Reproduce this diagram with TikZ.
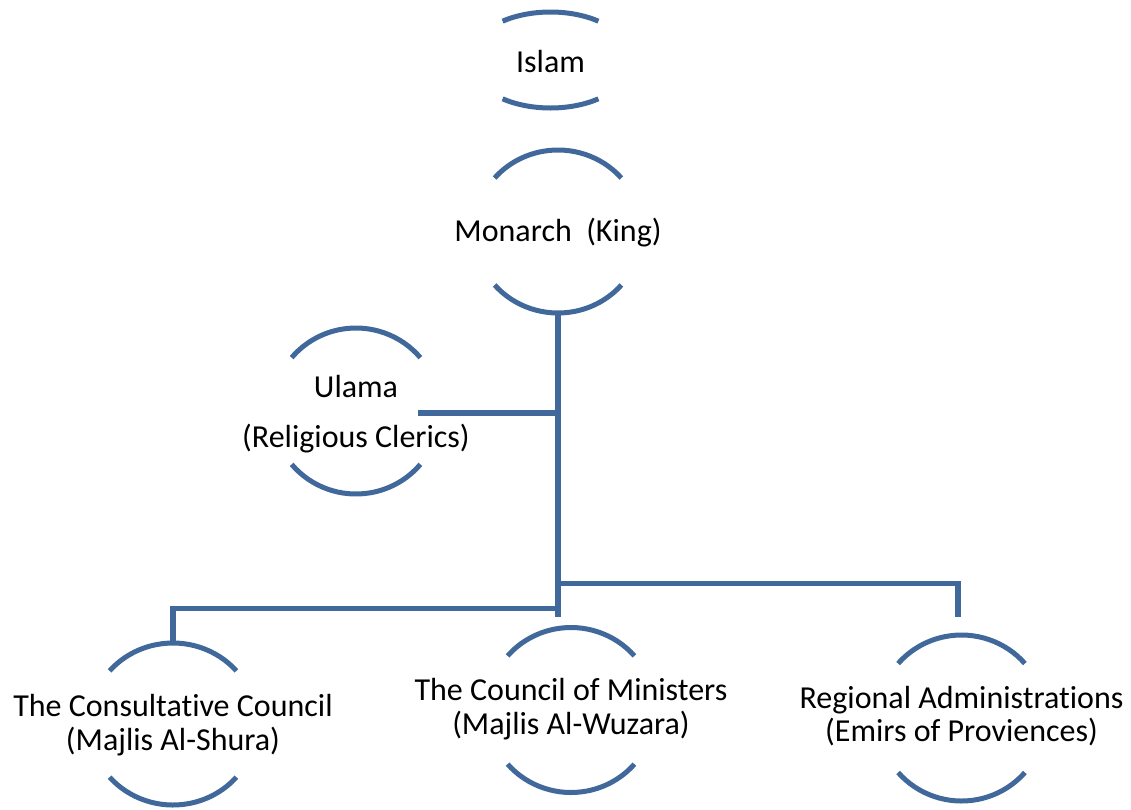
\documentclass[tikz,border=0pt]{standalone}
\usepackage{fontspec}
\setmainfont{Carlito}[Ligatures={NoCommon,NoContextual}]
\usetikzlibrary{shapes.geometric}
\definecolor{ringblue}{RGB}{65,104,155}
\tikzset{
  ring/.style={ellipse, draw=none, minimum width=168pt, minimum height=164pt, inner sep=0pt},
  arcline/.style={draw=ringblue, line width=5pt},
  conn/.style={draw=ringblue, line width=5.5pt},
  lbl/.style={font=\fontsize{32pt}{33.3pt}\selectfont, align=center, inner sep=0pt, anchor=base, text=black},
}
\newcommand{\ringarcs}[4]{%
  \draw[arcline] (#1.center) ++(#4:#2 and #3) arc[start angle=#4, end angle={180-#4}, x radius=#2, y radius=#3];
  \draw[arcline] (#1.center) ++({180+#4}:#2 and #3) arc[start angle={180+#4}, end angle={360-#4}, x radius=#2, y radius=#3];
}
\begin{document}
\begin{tikzpicture}[x=1pt,y=-1pt]
\useasboundingbox (0,0) rectangle (1131,809);

\node[ring, minimum width=163pt, minimum height=96pt] (islam) at (550.5,60) {};
\node[lbl] (islamT) at (550.5,72) {Islam};
\ringarcs{islam}{81.5pt}{48pt}{54}

\node[ring, minimum height=163pt] (monarch) at (558,231.5) {};
\node[lbl] (monarchT) at (558,241.7) {Monarch\ \ (King)};
\ringarcs{monarch}{84pt}{81.5pt}{41}

\node[ring, minimum height=166pt] (ulama) at (356,411) {};
\node[lbl, font=\fontsize{32pt}{50pt}\selectfont] (ulamaT) at (356,447) {Ulama\\(Religious Clerics)};
\ringarcs{ulama}{84pt}{83pt}{40}

\node[ring, minimum height=162pt] (consult) at (173,724) {};
\node[lbl] (consultT) at (173,750) {The Consultative Council\\(Majlis Al-Shura)};
\ringarcs{consult}{84pt}{81pt}{41}

\node[ring, minimum height=165pt] (ministers) at (571,710) {};
\node[lbl] (ministersT) at (571,734) {The Council of Ministers\\(Majlis Al-Wuzara)};
\ringarcs{ministers}{84pt}{82.5pt}{41}

\node[ring, minimum height=166pt] (regional) at (961.5,718) {};
\node[lbl] (regionalT) at (961.5,741.5) {Regional Administrations\\(Emirs of Proviences)};
\ringarcs{regional}{84pt}{83pt}{41}

\coordinate (trunkEnd) at (557,617);
\coordinate (ulamaR) at (418,413);
\coordinate (regDrop) at (958,617);
\coordinate (consultRow) at (0,608.5);
\coordinate (regRow) at (0,583.5);

\draw[conn] (monarch.south) -- (monarch.south |- trunkEnd);
\draw[conn] (ulamaR) -- (ulamaR -| monarch.south);
\draw[conn] (monarch.south |- consultRow) -| (consult.north);
\draw[conn] (monarch.south |- regRow) -| (regDrop);
\end{tikzpicture}
\end{document}
